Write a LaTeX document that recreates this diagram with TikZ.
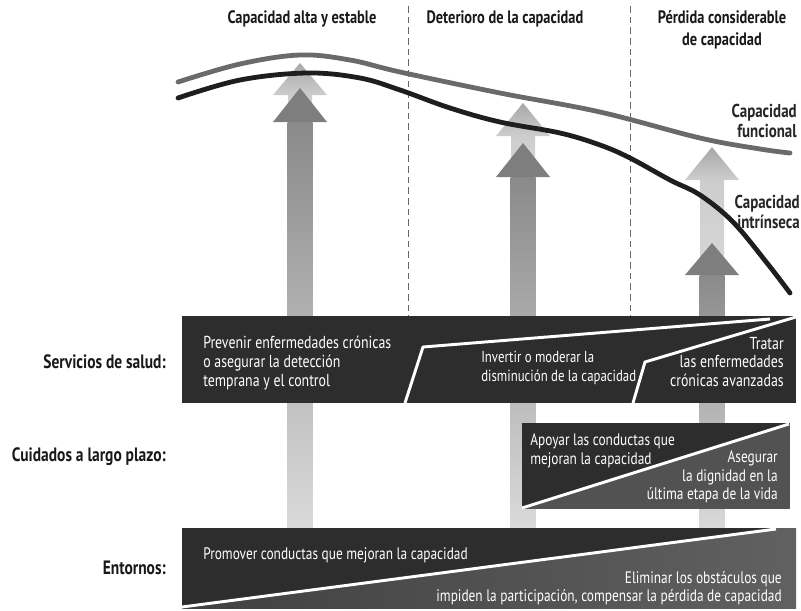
\documentclass[tikz,border=0pt]{standalone}
\usepackage{fontspec}
\setmainfont{PT Sans}[FakeStretch=0.8]
\definecolor{banddark}{HTML}{2D2D2D}
\definecolor{bandmid}{HTML}{525252}
\definecolor{funcgray}{HTML}{6A6A6A}
\definecolor{intrblack}{HTML}{1E1E1E}
\definecolor{headdark}{HTML}{7E7E7E}
\definecolor{shafttop}{HTML}{8A8A8A}
\definecolor{shaftbot}{HTML}{DADADA}
\definecolor{lighttop}{HTML}{A8A8A8}
\definecolor{lightbot}{HTML}{CDCDCD}
\newcommand\capArrow[5]{%
  % #1 centre x, #2 light tip, #3 light base, #4 dark tip, #5 dark base
  \shade[top color=lighttop, bottom color=lightbot] ({#1-27},#3) -- (#1,#2) -- ({#1+27},#3) -- cycle;
  \shade[top color=lightbot, bottom color=lightbot!80] ({#1-12},#3) rectangle ({#1+12},#5);
  \shade[top color=shafttop, bottom color=shaftbot] ({#1-12.5},#5) rectangle ({#1+12.5},529);
  \fill[headdark] ({#1-27},#5) -- (#1,#4) -- ({#1+27},#5) -- cycle;
}
\begin{document}
\begin{tikzpicture}[x=0.75pt,y=-0.75pt,
  hdr/.style={font=\bfseries\fontsize{13.5}{16.5}\selectfont, text=black!90, align=center, inner sep=0},
  rowlbl/.style={font=\bfseries\fontsize{14.5}{16}\selectfont, text=black!90, anchor=east, inner sep=0},
  curvelbl/.style={font=\bfseries\fontsize{14}{14.5}\selectfont, text=black!85, anchor=east, align=right, inner sep=0},
  wt/.style={text=white, font=\fontsize{13}{14}\selectfont, inner sep=0},
  sepline/.style={white, line width=2.2pt, line join=round},
  divider/.style={black!60, line width=0.7pt, dash pattern=on 5pt off 3pt},
  curve/.style={line width=3.6pt, line cap=round}
]
\useasboundingbox (0,0) rectangle (801,611);

% column dividers
\coordinate (d1t) at (408,6);  \coordinate (d1b) at (408,316);
\coordinate (d2t) at (630,6);  \coordinate (d2b) at (630,316);
\draw[divider] (d1t) -- (d1b);
\draw[divider] (d2t) -- (d2b);

% headers
\node[hdr] (h1) at (302,19) {Capacidad alta y estable};
\node[hdr] (h2) at (505,19) {Deterioro de la capacidad};
\node[hdr] (h3) at (722,30) {Pérdida considerable\\de capacidad};

% arrows
\capArrow{300}{63}{95}{88}{122}
\capArrow{523}{103}{136}{143}{177}
\capArrow{712}{147}{180}{243}{275}

% curves
\draw[curve, funcgray] plot[smooth, tension=0.6] coordinates {(178,82) (240,64) (300,55) (350,60) (400,72) (500,93) (600,112) (700,138) (760,149) (790,153)};
\draw[curve, intrblack] plot[smooth, tension=0.6] coordinates {(178,98) (240,80) (307,73) (360,78) (400,90) (450,108) (500,122) (560,133) (600,145) (630,158) (670,180) (700,195) (733,222) (767,263) (790,293)};

\node[curvelbl] (lf) at (797,121) {Capacidad\\funcional};
\node[curvelbl] (li) at (800,212) {Capacidad\\intrínseca};

% band 1: health services
\fill[banddark] (182,316) rectangle (796,403);
\draw[sepline] (405,403) -- (423,347) -- (770,319);
\draw[sepline] (633,403) -- (645,362) -- (796,317);
\node[wt, anchor=west, align=left] (b1a) at (203,363) {Prevenir enfermedades crónicas\\o asegurar la detección\\temprana y el control};
\node[wt, anchor=west, align=left, font=\fontsize{12}{14}\selectfont] (b1b) at (481,368) {Invertir o moderar la\\disminución de la capacidad};
\node[wt, anchor=east, align=right] (b1c) at (784,362) {Tratar\\las enfermedades\\crónicas avanzadas};

% band 2: long-term care
\fill[bandmid] (522,423) rectangle (790,509);
\fill[banddark] (522,423) -- (790,423) -- (522,509) -- cycle;
\draw[sepline] (522,508) -- (789,424);
\node[wt, anchor=west, align=left, font=\fontsize{12.5}{14}\selectfont] (b2a) at (530,451) {Apoyar las conductas que\\mejoran la capacidad};
\node[wt, anchor=east, align=right, font=\fontsize{12.5}{14}\selectfont] (b2b) at (778,477) {Asegurar\\la dignidad en la\\última etapa de la vida};

% band 3: environments
\shade[left color=black!75, right color=black!62] (182,528) rectangle (796,608);
\fill[banddark] (182,528) -- (776,528) -- (182,607) -- cycle;
\draw[sepline] (182,607) -- (776,529);
\node[wt, anchor=west, font=\fontsize{12.5}{14}\selectfont] (b3a) at (203,555) {Promover conductas que mejoran la capacidad};
\node[wt, anchor=east, align=right, font=\fontsize{12.5}{14}\selectfont] (b3b) at (782,588) {Eliminar los obstáculos que\\impiden la participación, compensar la pérdida de capacidad};

% row labels
\node[rowlbl] (r1) at (166,362) {Servicios de salud:};
\node[rowlbl] (r2) at (166,457) {Cuidados a largo plazo:};
\node[rowlbl] (r3) at (166,568) {Entornos:};
\end{tikzpicture}
\end{document}
